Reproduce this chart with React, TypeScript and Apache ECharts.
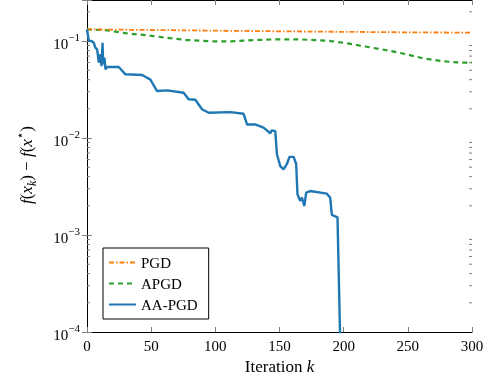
import React, { useEffect, useRef } from "react";
import * as echarts from "echarts";

const pgdX = [0, 50, 100, 150, 200, 250, 300];
const pgdY = [0.132, 0.130, 0.128, 0.126, 0.1245, 0.123, 0.122];

const apgdX = [0, 16, 31, 47, 62, 78, 99, 112, 130, 148, 165, 177, 190, 203, 218, 234, 249, 262, 278, 292, 300];
const apgdY = [0.132, 0.129, 0.120, 0.1145, 0.108, 0.1024, 0.0993, 0.0993, 0.1024, 0.1041, 0.1041, 0.1024, 0.1, 0.0947, 0.0873, 0.0802, 0.073, 0.0663, 0.0618, 0.0598, 0.0598];

const aaX = [0, 1.4, 3.5, 5.3, 6.6, 7.9, 9.2, 10.5, 11.3, 12.1, 12.6, 13.6, 14.4, 15.7, 24.7, 30, 43, 49.4, 54.6, 62.4, 75.3, 79.2, 84.4, 89.6, 94.8, 111.7, 122, 124.7, 131, 137.6, 142.8, 144, 146.7, 148, 150.6, 153.2, 155.8, 157.8, 161, 163, 164, 166.1, 167.5, 169.3, 170.8, 173.9, 186.9, 189.5, 190.8, 195.2, 198];
const aaY = [0.132, 0.1, 0.1, 0.096, 0.085, 0.082, 0.0598, 0.073, 0.0552, 0.096, 0.0575, 0.0673, 0.051, 0.054, 0.054, 0.0454, 0.0446, 0.040, 0.0305, 0.031, 0.0293, 0.0251, 0.0248, 0.0198, 0.0182, 0.0185, 0.0178, 0.0138, 0.0138, 0.0128, 0.0112, 0.012, 0.0118, 0.0068, 0.00514, 0.00475, 0.0054, 0.0064, 0.0064, 0.0054, 0.00263, 0.00225, 0.00243, 0.00199, 0.00273, 0.00284, 0.00267, 0.00243, 0.00161, 0.00152, 0.00003];

const seriesNames = ["PGD", "APGD", "AA-PGD"];
const xTickInterval = 50;
const yMin = 1e-4;
const yMax = 0.265;
const minorTickValues: number[] = [];
for (let e = -4; e <= -1; e++) {
  for (let m = 2; m <= 9; m++) {
    const v = m * Math.pow(10, e);
    if (v < yMax) minorTickValues.push(v);
  }
}

const SERIF = "Liberation Serif";
const zip = (xs: number[], ys: number[]) => xs.map((x, i) => [x, ys[i]]);

export default function App() {
  const ref = useRef<HTMLDivElement>(null);
  useEffect(() => {
    if (!ref.current) return;
    const chart = echarts.init(ref.current, null, { renderer: "svg" });
    const tickColor = "#7f7f7f";
    const yLabelFormatter = (v: number) => {
      const l = Math.log10(v);
      const e = Math.round(l);
      if (Math.abs(l - e) > 1e-6) return "";
      return `{b|10}{s|${e < 0 ? "\u2212" : ""}${Math.abs(e)}}`;
    };
    const yRich = {
      b: { fontSize: 15, fontFamily: SERIF, color: "#000", lineHeight: 20, verticalAlign: "bottom" },
      s: { fontSize: 11, fontFamily: SERIF, color: "#000", verticalAlign: "top" },
    };
    const option: any = {
      animation: false,
      textStyle: { fontFamily: SERIF },
      grid: { left: 87, right: 16, top: -1, bottom: 51, containLabel: false },
      legend: {
        data: seriesNames,
        orient: "vertical",
        left: 103,
        top: 248,
        itemWidth: 27,
        itemHeight: 14,
        itemGap: 6,
        padding: [7, 11, 7, 5],
        borderColor: "#000",
        borderWidth: 1,
        borderRadius: 0,
        backgroundColor: "#fff",
        itemStyle: { opacity: 0 },
        textStyle: { fontSize: 15, fontFamily: SERIF, color: "#000" },
      },
      xAxis: [
        {
          type: "value",
          min: 0,
          max: 300,
          interval: xTickInterval,
          position: "bottom",
          axisLine: { show: true, lineStyle: { color: "#000", width: 1 } },
          axisTick: { show: true, inside: true, length: 5, lineStyle: { color: tickColor } },
          axisLabel: { show: true, margin: 6, fontSize: 15, fontFamily: SERIF, color: "#000" },
          splitLine: { show: false },
          name: "{n|Iteration }{i|k}",
          nameLocation: "middle",
          nameGap: 23,
          nameTextStyle: {
            fontFamily: SERIF,
            rich: {
              n: { fontSize: 17, fontFamily: SERIF, color: "#000" },
              i: { fontSize: 17, fontFamily: SERIF, fontStyle: "italic", color: "#000" },
            },
          },
        },
        {
          type: "value",
          min: 0,
          max: 300,
          interval: xTickInterval,
          position: "top",
          axisLine: { show: true, lineStyle: { color: "#000", width: 1 } },
          axisTick: { show: true, inside: true, length: 5, lineStyle: { color: tickColor } },
          axisLabel: { show: false },
          splitLine: { show: false },
        },
      ],
      yAxis: [
        {
          type: "log",
          logBase: 10,
          min: yMin,
          max: yMax,
          position: "left",
          axisLine: { show: true, lineStyle: { color: "#000", width: 1 } },
          axisTick: { show: true, inside: true, length: 5, lineStyle: { color: tickColor } },
          axisLabel: { show: true, margin: 7, fontFamily: SERIF, formatter: yLabelFormatter, rich: yRich },
          splitLine: { show: false },
        },
        {
          type: "log",
          logBase: 10,
          min: yMin,
          max: yMax,
          position: "right",
          axisLine: { show: true, lineStyle: { color: "#000", width: 1 } },
          axisTick: { show: true, inside: true, length: 5, lineStyle: { color: tickColor } },
          axisLabel: { show: false },
          splitLine: { show: false },
        },
      ],
      graphic: [
        {
          type: "text",
          x: 26,
          y: 165,
          rotation: Math.PI / 2,
          style: {
            text: "{i|f}{n|(}{i|x}{sub|k}{n|) \u2212 }{i|f}{n|(}{i|x}{sup|\u22c6}{n|)}",
            align: "center",
            verticalAlign: "middle",
            fontFamily: SERIF,
            rich: {
              n: { fontSize: 17, fontFamily: SERIF, fill: "#000", lineHeight: 24, verticalAlign: "middle" },
              i: { fontSize: 17, fontFamily: SERIF, fontStyle: "italic", fill: "#000", lineHeight: 24, verticalAlign: "middle" },
              sub: { fontSize: 12, fontFamily: SERIF, fontStyle: "italic", fill: "#000", verticalAlign: "bottom" },
              sup: { fontSize: 12, fontFamily: "DejaVu Sans", fill: "#000", verticalAlign: "top" },
            },
          },
        },
      ],
      series: [
        {
          name: "PGD",
          type: "line",
          data: zip(pgdX, pgdY),
          symbol: "none",
          showSymbol: false,
          lineStyle: { color: "#ff7f0e", width: 1.8, type: [5, 2, 1.5, 2] },
          itemStyle: { color: "#ff7f0e" },
          z: 3,
        },
        {
          name: "APGD",
          type: "line",
          data: zip(apgdX, apgdY),
          symbol: "none",
          showSymbol: false,
          lineStyle: { color: "#2ca02c", width: 2.2, type: [5, 4] },
          itemStyle: { color: "#2ca02c" },
          z: 2,
        },
        {
          name: "AA-PGD",
          type: "line",
          data: zip(aaX, aaY),
          symbol: "none",
          showSymbol: false,
          lineStyle: { color: "#1f77b4", width: 2.4 },
          itemStyle: { color: "#1f77b4" },
          clip: true,
          z: 4,
        },
        {
          name: "minorTicks",
          type: "custom",
          silent: true,
          clip: false,
          data: minorTickValues.map((v) => [0, v]),
          encode: { x: 0, y: 1 },
          renderItem: (params: any, api: any) => {
            const y = api.coord([0, api.value(1)])[1];
            const cs = params.coordSys;
            const st = { stroke: tickColor, lineWidth: 1 };
            return {
              type: "group",
              children: [
                { type: "line", shape: { x1: cs.x, y1: y, x2: cs.x + 3, y2: y }, style: st },
                { type: "line", shape: { x1: cs.x + cs.width - 3, y1: y, x2: cs.x + cs.width, y2: y }, style: st },
              ],
            };
          },
        },
      ],
    };
    chart.setOption(option);
    return () => chart.dispose();
  }, []);
  return <div ref={ref} style={{ position: "fixed", left: 0, top: 0, width: 488, height: 383 }} />;
}
